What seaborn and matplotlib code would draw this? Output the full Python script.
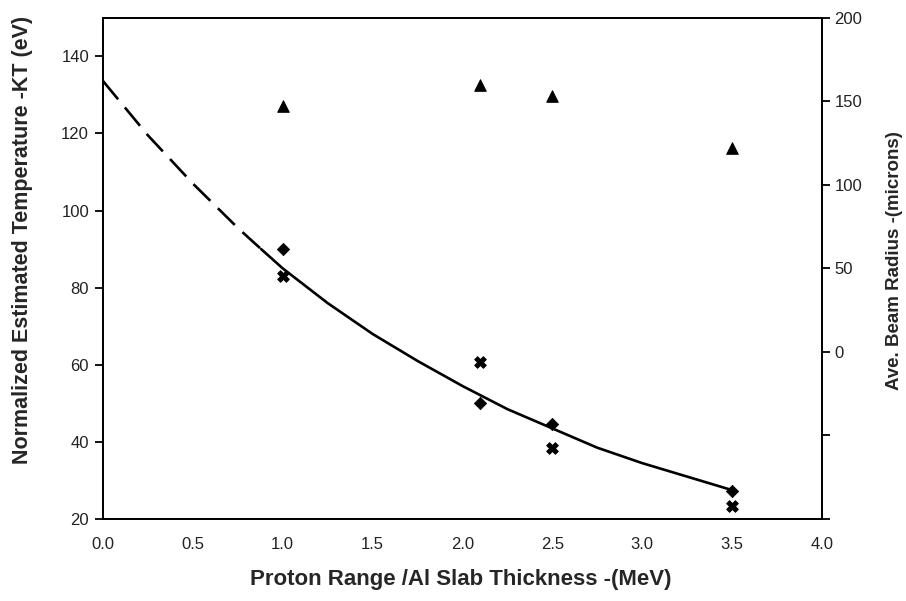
import numpy as np
import pandas as pd
import matplotlib.pyplot as plt
import seaborn as sns

# Values
proton_range = [1.0, 2.1, 2.5, 3.5]
temp_diamond = [90.0, 50.0, 44.6, 27.2]      # left axis (eV)
temp_cross = [83.1, 60.6, 38.4, 23.4]        # left axis (eV)
beam_radius = [147, 160, 153, 122]           # right axis (microns)

# fitted curve, dashed part (extrapolation) and solid part
fit_x_dashed = [0.0, 0.25, 0.5, 0.75, 0.88]
fit_y_dashed = [133.6, 119.5, 107.0, 95.5, 90.0]
fit_x_solid = [0.88, 1.0, 1.25, 1.5, 1.75, 2.0, 2.25, 2.5, 2.75, 3.0, 3.25, 3.5]
fit_y_solid = [90.0, 85.0, 76.0, 68.0, 61.0, 54.5, 48.5, 43.5, 38.5, 34.5, 31.0, 27.5]

x_ticks = [0.0, 0.5, 1.0, 1.5, 2.0, 2.5, 3.0, 3.5, 4.0]
left_ticks = [20, 40, 60, 80, 100, 120, 140]
right_ticks = [-100, -50, 0, 50, 100, 150, 200]
right_labels = ['', '', '0', '50', '100', '150', '200']

points = pd.DataFrame({'x': proton_range, 'diamond': temp_diamond,
                       'cross': temp_cross, 'radius': beam_radius})
dashed = pd.DataFrame({'x': fit_x_dashed, 'y': fit_y_dashed})
solid = pd.DataFrame({'x': fit_x_solid, 'y': fit_y_solid})

sns.set_theme(style='white')
plt.rcParams['font.family'] = ['Liberation Sans', 'DejaVu Sans']

fig = plt.figure(figsize=(9.06, 6.01), dpi=100)
ax = fig.add_axes([0.1137, 0.1364, 0.7935, 0.834])

# fit curve
sns.lineplot(data=dashed, x='x', y='y', color='black', lw=1.9, ax=ax)
ax.lines[-1].set_dashes([9, 4])
sns.lineplot(data=solid, x='x', y='y', color='black', lw=1.9, ax=ax)

# temperature points
sns.scatterplot(data=points, x='x', y='diamond', marker='D', s=40, color='black',
                edgecolor='black', ax=ax, zorder=3)
sns.scatterplot(data=points, x='x', y='cross', marker='X', s=70, color='black',
                edgecolor='black', ax=ax, zorder=3)

ax.set_xlim(0, 4)
ax.set_ylim(20, 150)
ax.set_xticks(x_ticks)
ax.set_xticklabels([f'{t:.1f}' for t in x_ticks])
ax.set_yticks(left_ticks)

# beam radius on right axis
ax2 = ax.twinx()
sns.scatterplot(data=points, x='x', y='radius', marker='^', s=70, color='black',
                edgecolor='black', ax=ax2, zorder=3)
ax2.set_ylim(-100, 200)
ax2.set_yticks(right_ticks)
ax2.set_yticklabels(right_labels)

for a in (ax, ax2):
    for sp in a.spines.values():
        sp.set_color('black')
        sp.set_linewidth(1.3)
    a.tick_params(direction='out', length=6, width=1.3, color='black',
                  labelsize=12, labelcolor='#222222')
ax.tick_params(axis='x', pad=7)
ax.tick_params(axis='y', left=True, pad=4)
ax2.tick_params(axis='y', right=True, pad=3)

ax.set_xlabel('Proton Range /Al Slab Thickness -(MeV)', fontsize=16, fontweight='bold')
ax.set_ylabel('Normalized Estimated Temperature -KT (eV)', fontsize=15.5, fontweight='bold')
ax2.set_ylabel('Ave. Beam Radius -(microns)', fontsize=13.5, fontweight='bold')
ax.xaxis.set_label_coords(0.498, -0.1)
ax.yaxis.set_label_coords(-0.0974, 0.557)
ax2.yaxis.set_label_coords(1.089, 0.515)

plt.savefig('out.png', dpi=100)
